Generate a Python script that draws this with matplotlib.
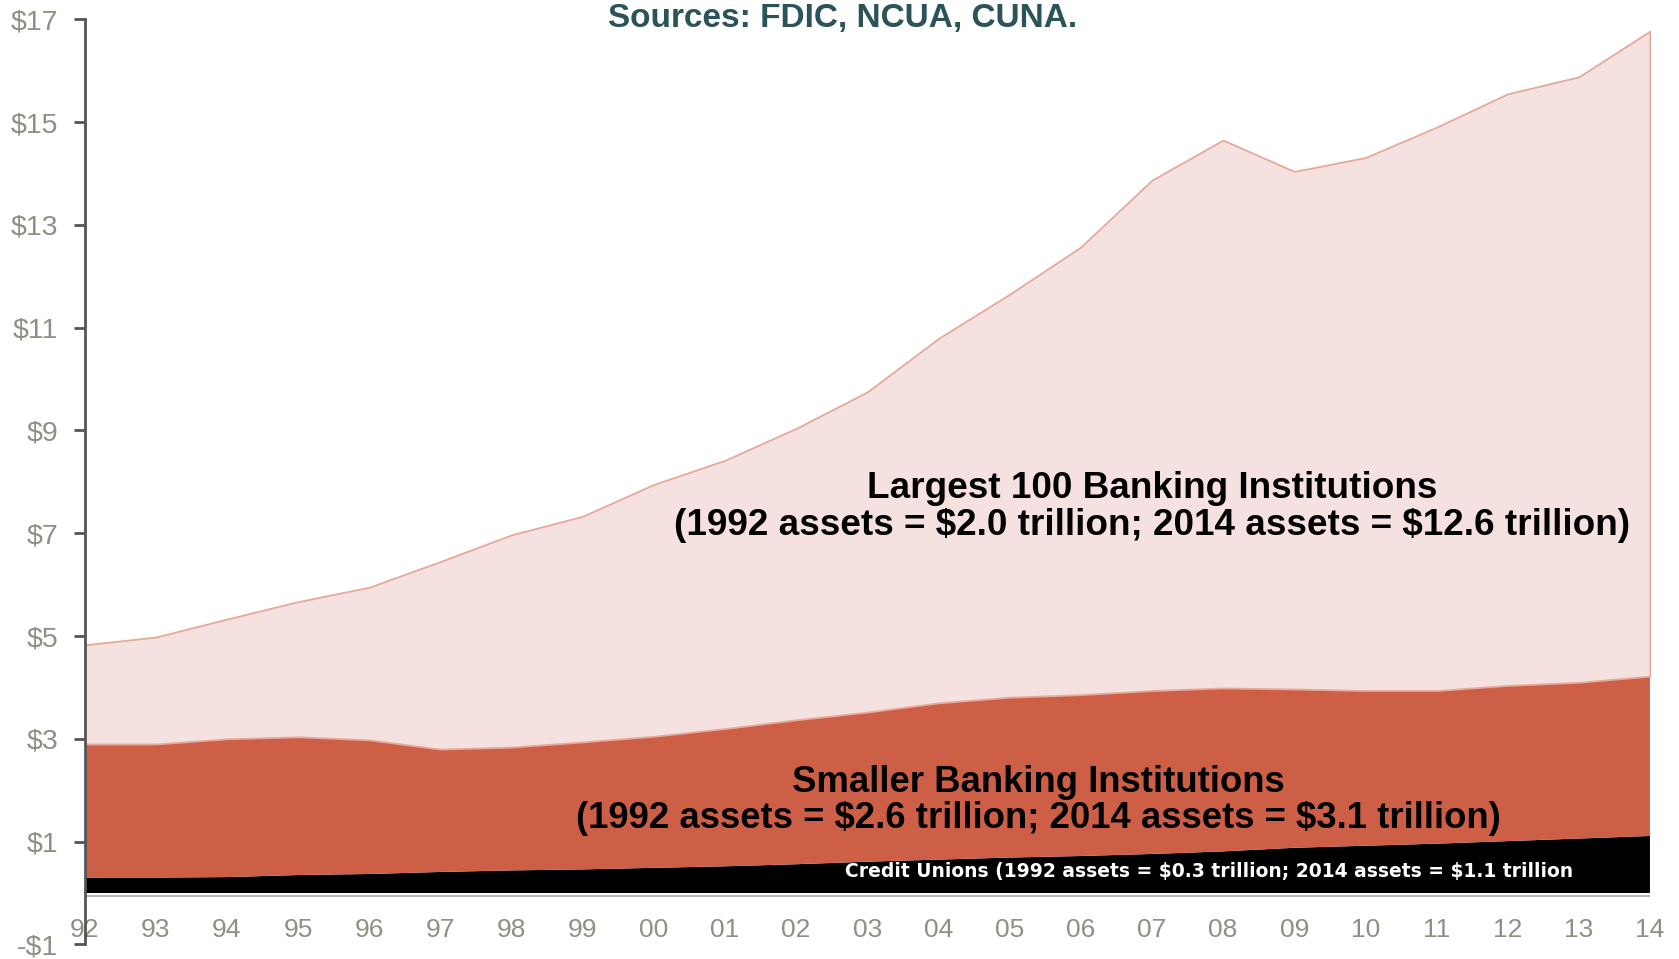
import matplotlib
matplotlib.use("Agg")
import matplotlib.pyplot as plt
import numpy as np

years = list(range(1992, 2015))
year_labels = ['92', '93', '94', '95', '96', '97', '98', '99', '00', '01', '02', '03',
               '04', '05', '06', '07', '08', '09', '10', '11', '12', '13', '14']

# trillions of dollars (stacked layers)
credit_unions = [0.30, 0.30, 0.31, 0.35, 0.37, 0.41, 0.44, 0.46, 0.49, 0.52, 0.56, 0.61,
                 0.65, 0.69, 0.72, 0.76, 0.81, 0.88, 0.92, 0.96, 1.01, 1.06, 1.11]
smaller_banks = [2.60, 2.60, 2.69, 2.69, 2.61, 2.39, 2.40, 2.48, 2.56, 2.68, 2.81, 2.91,
                 3.05, 3.12, 3.14, 3.18, 3.18, 3.09, 3.02, 2.98, 3.03, 3.04, 3.11]
largest_100 = [1.93, 2.08, 2.33, 2.63, 2.97, 3.65, 4.13, 4.39, 4.90, 5.22, 5.67, 6.23,
               7.09, 7.84, 8.71, 9.93, 10.66, 10.07, 10.37, 10.96, 11.51, 11.78, 12.55]

y_ticks = [-1, 1, 3, 5, 7, 9, 11, 13, 15, 17]
y_labels = ['-$1', '$1', '$3', '$5', '$7', '$9', '$11', '$13', '$15', '$17']

plt.rcParams['font.family'] = ['Liberation Sans', 'DejaVu Sans']
plt.rcParams['text.parse_math'] = False

fig = plt.figure(figsize=(16.79, 9.59), dpi=100)
ax = fig.add_axes([0.0504, 0.0152, 0.9323, 0.9647])

layers = ax.stackplot(years, credit_unions, smaller_banks, largest_100,
                      colors=['#000000', '#cd5f47', '#f5e1df'], linewidth=0)
layers[2].set_edgecolor('#e6a99a')
layers[2].set_linewidth(1.3)

# faint shadow under the base
ax.axhline(-0.05, color='#b5b5b5', lw=1.5, zorder=0)

ax.set_xlim(1992, 2014)
ax.set_ylim(-1, 17)

ax.set_yticks(y_ticks)
ax.set_yticklabels(y_labels)
ax.set_xticks(years)
ax.set_xticklabels(year_labels)

grey = '#8f8f84'
ax.tick_params(axis='y', length=8, width=2, color='#555555', pad=11,
               labelsize=20.5, labelcolor=grey)
ax.tick_params(axis='x', length=0, pad=-19, labelsize=19, labelcolor=grey)

for s in ['top', 'right', 'bottom']:
    ax.spines[s].set_visible(False)
ax.spines['left'].set_color('#555555')
ax.spines['left'].set_linewidth(2)

ax.text(2007.0, 7.51, 'Largest 100 Banking Institutions\n'
        '(1992 assets = $2.0 trillion; 2014 assets = $12.6 trillion)',
        ha='center', va='center', fontsize=26.6, fontweight='bold',
        linespacing=1.05)
ax.text(2005.4, 1.80, 'Smaller Banking Institutions\n'
        '(1992 assets = $2.6 trillion; 2014 assets = $3.1 trillion)',
        ha='center', va='center', fontsize=26.3, fontweight='bold',
        linespacing=1.05)
ax.text(2007.8, 0.41, 'Credit Unions (1992 assets = $0.3 trillion; 2014 assets = $1.1 trillion',
        ha='center', va='center', fontsize=13.5, fontweight='bold',
        color='white', family='DejaVu Sans')

fig.text(0.502, 0.997, 'Sources: FDIC, NCUA, CUNA.', ha='center', va='top',
         fontsize=24, fontweight='bold', color='#2b5459')

fig.savefig('out.png', dpi=100)
